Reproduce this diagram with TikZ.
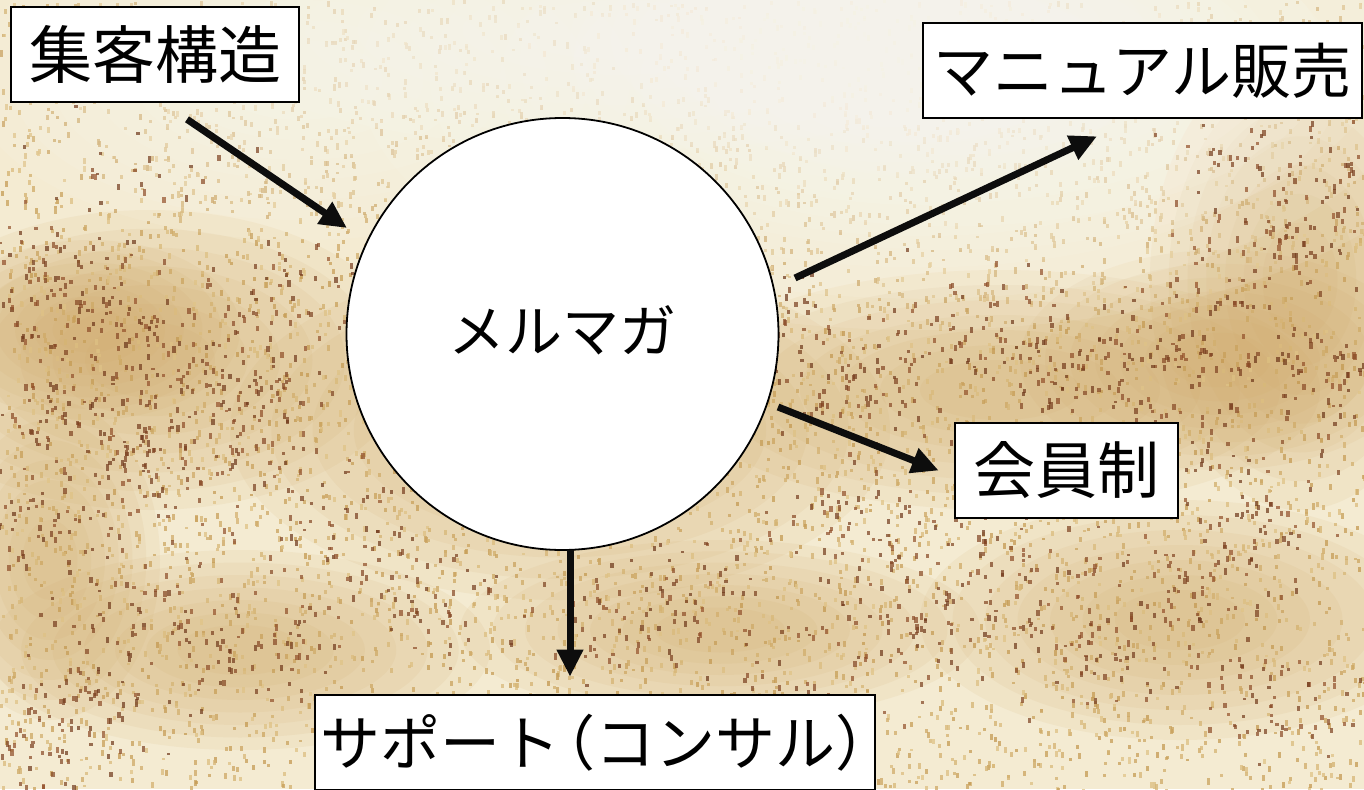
\documentclass[tikz,border=0pt]{standalone}
\usepackage{fontspec}
\newfontfamily\jp{Noto Sans CJK JP}
\usetikzlibrary{arrows.meta,calc}
\definecolor{basec}{HTML}{F4EBD2}
\definecolor{lightc}{HTML}{FDFBF4}
\definecolor{tanc}{HTML}{CFA766}
\definecolor{goldc}{HTML}{C39850}
\definecolor{paleg}{HTML}{E0C488}
\definecolor{rustc}{HTML}{94502A}
\definecolor{darkc}{HTML}{6A3418}
\newcommand\myblob[5]{%
  \foreach \k in {0,...,6}{%
    \pgfmathsetmacro\rx{#3*(1-\k/8)}%
    \pgfmathsetmacro\ry{#4*(1-\k/8)}%
    \fill[#5, opacity=0.1] (#1,#2) ellipse [x radius=\rx pt, y radius=\ry pt];
  }%
}
\begin{document}
\begin{tikzpicture}[x=1pt,y=-1pt,
  box/.style={draw=black, line width=2.6pt, fill=white, rectangle, inner sep=0pt,
    minimum height=95pt},
  hub/.style={circle, draw=black, line width=1.8pt, fill=white, minimum size=432pt,
    inner sep=0pt, font=\jp\fontsize{57}{57}\selectfont},
  arr/.style={line width=7pt, draw=black!95, -{Triangle[length=27pt,width=25pt]}},
]
\useasboundingbox (0,0) rectangle (1364,789);
\clip (0,0) rectangle (1364,789);
% ---------- background texture ----------
\fill[basec] (0,0) rectangle (1364,789);
% broad tan mottling
\myblob{150}{360}{260}{150}{tanc}
\myblob{90}{330}{150}{90}{tanc}
\myblob{560}{430}{330}{170}{tanc}
\myblob{1000}{390}{320}{120}{tanc}
\myblob{1220}{360}{200}{110}{tanc}
\myblob{1300}{280}{150}{230}{tanc}
\myblob{240}{650}{250}{100}{tanc}
\myblob{720}{630}{260}{90}{tanc}
\myblob{1180}{620}{260}{120}{tanc}
\myblob{50}{560}{110}{160}{tanc}
\pgfmathsetseed{11}
% golden grain everywhere
\foreach \i in {1,...,6500}{%
  \pgfmathsetmacro\xx{rnd*1364}%
  \pgfmathsetmacro\yy{rnd*789}%
  \pgfmathsetmacro\hh{2.5+rnd*4}%
  \pgfmathsetmacro\pp{int(rnd*100)}%
  \fill[goldc!\pp!paleg, opacity=0.75] (\xx,\yy) rectangle ++(3,\hh);
}
% light top area
\myblob{920}{80}{560}{250}{lightc}
\myblob{950}{60}{430}{190}{lightc}
\myblob{900}{40}{330}{140}{lightc}
\myblob{300}{80}{330}{160}{lightc}
\myblob{620}{30}{420}{120}{lightc}
% rust clusters
\foreach \cx/\cy/\n in {30/290/70,120/320/80,60/420/80,210/380/70,290/290/50,150/470/70,
  320/520/50,20/520/60,250/430/60,
  800/330/50,880/390/70,980/320/50,1060/370/70,1190/330/70,1280/240/70,1340/380/80,
  1150/430/60,860/520/60,1240/500/60,1330/170/50,
  90/700/70,250/640/70,420/600/60,700/590/50,920/620/60,1090/640/70,1260/700/70,
  1010/560/60,30/770/60,480/770/40,1200/580/60,140/600/50,600/620/45,820/680/45,
  150/170/18,60/220/18,1230/140/25}{%
  \foreach \j in {1,...,\n}{%
    \pgfmathsetmacro\xx{\cx+(rnd+rnd+rnd-1.5)*90}%
    \pgfmathsetmacro\yy{\cy+(rnd+rnd+rnd-1.5)*60}%
    \pgfmathsetmacro\hh{2.5+rnd*4}%
    \pgfmathsetmacro\pp{int(rnd*100)}%
    \fill[darkc!\pp!rustc, opacity=0.7] (\xx,\yy) rectangle ++(3.2,\hh);
  }%
}
% ---------- diagram ----------
\node[hub] (m) at (562.5,334) {\raisebox{9pt}{メルマガ}};
\node[box, minimum width=288pt, font=\jp\fontsize{63}{63}\selectfont] (jk) at (155,54.5) {集客構造};
\node[box, minimum width=439pt, font=\jp\fontsize{60}{60}\selectfont] (mn) at (1142.5,70.5) {マニュアル販売};
\node[box, minimum width=223pt, font=\jp\fontsize{62}{62}\selectfont] (kai) at (1066.5,470.5) {会員制};
\node[box, minimum width=560pt, font=\jp\fontsize{60}{60}\selectfont] (sp) at (595,742.5)
  {サポート\kern-0.42em（コンサル）\kern-0.42em};
\draw[arr] ([shift={(32,16)}]jk.south) -- ([shift={(-215.5,-106)}]m.center);
\draw[arr] ([shift={(232.5,-56)}]m.center) -- ([shift={(-45.5,17)}]mn.south);
\draw[arr] ([shift={(215.5,73)}]m.center) -- ([shift={(-15,0)}]kai.west);
\draw[arr] ([shift={(7.5,216)}]m.center) -- ([shift={(-25,-17)}]sp.north);
\end{tikzpicture}
\end{document}
